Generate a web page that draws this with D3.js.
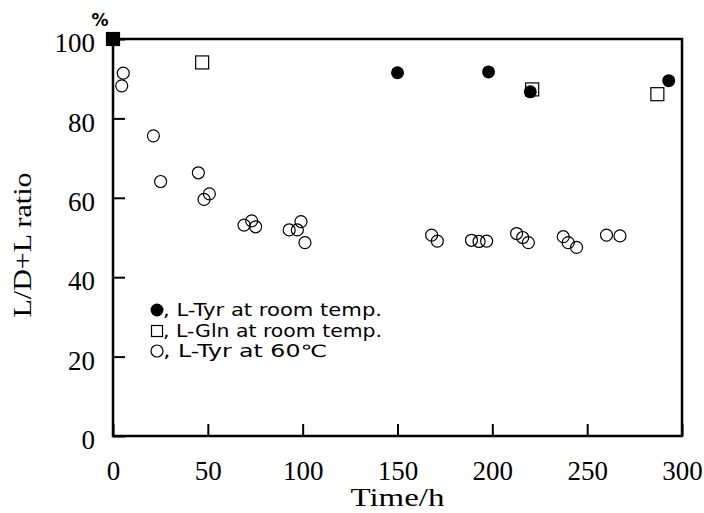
<!DOCTYPE html>
<html>
<head>
<meta charset="utf-8">
<script src="https://cdn.jsdelivr.net/npm/d3@7"></script>
<style>
  body { margin: 0; background: #fff; }
  svg { display: block; }
</style>
</head>
<body>
<svg id="chart"></svg>
<script>
// L-Tyr at room temp. (filled circles)
var tyrRoomTime = [0, 150, 198, 220, 293];
var tyrRoomRatio = [100, 91.5, 91.7, 86.7, 89.5];

// L-Gln at room temp. (open squares)
var glnRoomTime = [0, 47, 221, 287];
var glnRoomRatio = [100, 94.1, 87.3, 86.1];

// L-Tyr at 60C (open circles)
var tyr60Time = [5.4, 4.6, 21.3, 25.1, 45, 50.8, 48, 69.1, 73.1, 75.2, 92.9, 99.1, 97.2, 101.2,
  168, 171, 189, 193, 197, 212.8, 216, 219, 237.4, 240, 244.4, 260.2, 267.3];
var tyr60Ratio = [91.4, 88.2, 75.6, 64.1, 66.3, 61.0, 59.6, 53.1, 54.2, 52.7, 51.9, 54.0, 51.9, 48.7,
  50.6, 49.1, 49.3, 49.0, 49.1, 51.0, 50.0, 48.7, 50.2, 48.7, 47.5, 50.6, 50.4];

var xTicks = [0, 50, 100, 150, 200, 250, 300];
var yTicks = [0, 20, 40, 60, 80, 100];

var legendLabels = [", L-Tyr at room temp.", ", L-Gln at room temp.", ", L-Tyr at 60\u2103"];

var W = 704, H = 513;
var plotL = 113, plotR = 682, plotT = 39, plotB = 436;

var svg = d3.select("#chart").attr("width", W).attr("height", H);

var x = d3.scaleLinear().domain([0, 300]).range([plotL, plotR]);
var y = d3.scaleLinear().domain([0, 100]).range([plotB, plotT]);

var zip = function(a, b){
  return a.map(function(v, i){ return {t: v, r: b[i]}; });
};
var tyrRoom = zip(tyrRoomTime, tyrRoomRatio);
var glnRoom = zip(glnRoomTime, glnRoomRatio);
var tyr60 = zip(tyr60Time, tyr60Ratio);

// axes, ticks pointing inward
var xAxis = svg.append("g")
  .attr("transform", "translate(0," + plotB + ")")
  .call(d3.axisBottom(x).tickValues(xTicks).tickSize(-12).tickPadding(25));
var yAxis = svg.append("g")
  .attr("transform", "translate(" + plotL + ",0)")
  .call(d3.axisLeft(y).tickValues(yTicks).tickSize(-12).tickPadding(18));

[xAxis, yAxis].forEach(function(g){
  g.select(".domain").remove();
  g.selectAll(".tick line").attr("stroke", "#000").attr("stroke-width", 2);
  g.selectAll(".tick text")
    .attr("fill", "#000")
    .style("font-family", "'Liberation Serif', 'DejaVu Serif', serif")
    .style("font-size", "27px");
});
yAxis.selectAll(".tick text").attr("dy", "0.47em");

// frame
svg.append("rect")
  .attr("x", plotL).attr("y", plotT)
  .attr("width", plotR - plotL).attr("height", plotB - plotT)
  .attr("fill", "none").attr("stroke", "#000").attr("stroke-width", 2.5);

// axis titles
svg.append("text")
  .attr("x", x(150)).attr("y", 506)
  .attr("text-anchor", "middle")
  .attr("textLength", 94).attr("lengthAdjust", "spacingAndGlyphs")
  .style("font-family", "'Liberation Serif', serif").style("font-size", "25px")
  .text("Time/h");

svg.append("text")
  .attr("transform", "translate(31,245) rotate(-90)")
  .attr("text-anchor", "middle")
  .attr("textLength", 145).attr("lengthAdjust", "spacingAndGlyphs")
  .style("font-family", "'Liberation Serif', serif").style("font-size", "25px")
  .text("L/D+L ratio");

svg.append("text")
  .attr("x", 100).attr("y", 26)
  .attr("text-anchor", "middle")
  .style("font-family", "'DejaVu Sans', sans-serif").style("font-size", "17px")
  .style("font-weight", "bold")
  .text("%");

// open circles
svg.append("g").selectAll("circle")
  .data(tyr60)
  .enter().append("circle")
  .attr("cx", function(d){ return x(d.t); })
  .attr("cy", function(d){ return y(d.r); })
  .attr("r", 6)
  .attr("fill", "none")
  .attr("stroke", "#000")
  .attr("stroke-width", 1.2);

// open squares (the t=0 one sits under a filled circle and prints solid)
svg.append("g").selectAll("rect")
  .data(glnRoom)
  .enter().append("rect")
  .attr("x", function(d){ return x(d.t) - 6.5; })
  .attr("y", function(d){ return y(d.r) - 6.5; })
  .attr("width", 13).attr("height", 13)
  .attr("fill", function(d){ return d.t === 0 ? "#000" : "#fff"; })
  .attr("stroke", "#000")
  .attr("stroke-width", 1.2);

// filled circles
svg.append("g").selectAll("circle")
  .data(tyrRoom)
  .enter().append("circle")
  .attr("cx", function(d){ return x(d.t); })
  .attr("cy", function(d){ return y(d.r); })
  .attr("r", 6.5)
  .attr("fill", "#000");

// legend
var legX = 157, legY = [310, 331, 351];
var leg = svg.append("g");
leg.append("circle").attr("cx", legX).attr("cy", legY[0]).attr("r", 6.5).attr("fill", "#000");
leg.append("rect").attr("x", legX - 5.5).attr("y", legY[1] - 5.5)
  .attr("width", 11).attr("height", 11)
  .attr("fill", "none").attr("stroke", "#000").attr("stroke-width", 1.2);
leg.append("circle").attr("cx", legX).attr("cy", legY[2]).attr("r", 6)
  .attr("fill", "none").attr("stroke", "#000").attr("stroke-width", 1.2);

var legLen = [219, 219, 164];
leg.selectAll("text")
  .data(legendLabels)
  .enter().append("text")
  .attr("x", 163)
  .attr("y", function(d, i){ return legY[i] + 6; })
  .attr("textLength", function(d, i){ return legLen[i]; })
  .attr("lengthAdjust", "spacingAndGlyphs")
  .style("font-family", "'DejaVu Sans', sans-serif")
  .style("font-size", "17px")
  .text(function(d){ return d; });
</script>
</body>
</html>
